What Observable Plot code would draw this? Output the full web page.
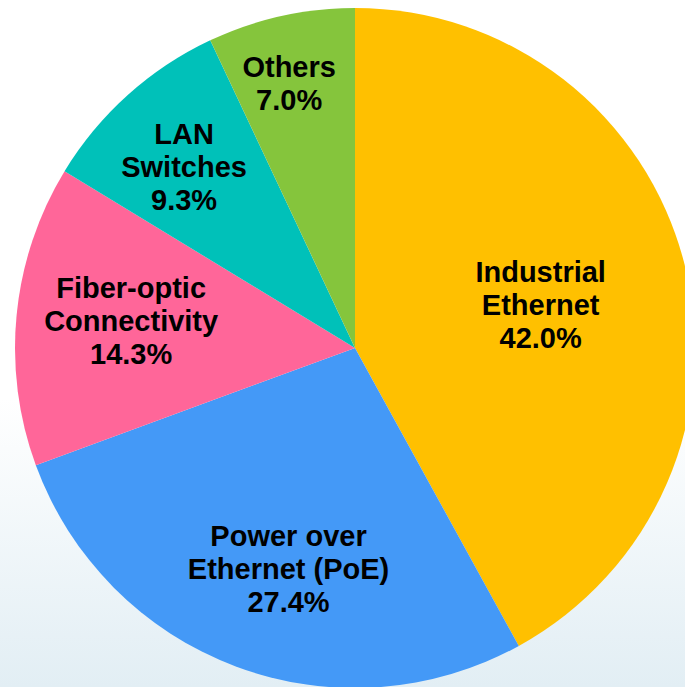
<!DOCTYPE html>
<html>
<head>
<meta charset="utf-8">
<script src="https://cdn.jsdelivr.net/npm/d3@7"></script>
<script src="https://cdn.jsdelivr.net/npm/@observablehq/plot@0.6"></script>
<style>
  html, body { margin: 0; padding: 0; }
  body {
    width: 685px; height: 687px; overflow: hidden;
    background: linear-gradient(to bottom, #ffffff 0%, #ffffff 58%, #e2eef4 100%);
    font-family: "Liberation Sans", Arial, sans-serif;
  }
  #chart svg { display: block; background: transparent !important; }
</style>
</head>
<body>
<div id="chart"></div>
<script>
const categories = ["Industrial\nEthernet", "Power over\nEthernet (PoE)", "Fiber-optic\nConnectivity", "LAN\nSwitches", "Others"];
const shares = [42.0, 27.4, 14.3, 9.3, 7.0];
const colors = ["#FFC000", "#4499F7", "#FF6699", "#00C1B9", "#85C53C"];
// label placement: fraction of pie radius, and fraction along each slice's angle
const labelRadii = [0.56, 0.675, 0.665, 0.735, 0.806];
const labelSpan = [0.506, 0.464, 0.53, 0.459, 0.444];

const arcs = d3.pie().sort(null).value(d => d)(shares);
const rows = categories.map((c, i) => {
  const a = arcs[i];
  const ang = a.startAngle + labelSpan[i] * (a.endAngle - a.startAngle);
  return {
    name: c, share: shares[i], color: colors[i],
    start: a.startAngle, end: a.endAngle,
    lx: labelRadii[i] * Math.sin(ang),
    ly: labelRadii[i] * Math.cos(ang),
    label: c + "\n" + shares[i].toFixed(1) + "%"
  };
});

function slices(index, scales) {
  const x = scales.x, y = scales.y;
  const cx = x(0), cy = y(0), r = x(1) - x(0);
  const g = d3.create("svg:g").attr("transform", `translate(${cx},${cy})`);
  const arc = d3.arc().innerRadius(0).outerRadius(r);
  g.selectAll("path").data(rows).join("path")
    .attr("d", d => arc({startAngle: d.start, endAngle: d.end}))
    .attr("fill", d => d.color);
  return g.node();
}

const chart = Plot.plot({
  width: 685,
  height: 687,
  margin: 0,
  style: {background: "transparent", overflow: "hidden"},
  x: {domain: [-1, 1], range: [15, 695], axis: null},
  y: {domain: [-1, 1], range: [688, 8], axis: null},
  marks: [
    slices,
    Plot.text(rows, {
      x: "lx", y: "ly", text: "label",
      fontSize: 29, fontWeight: "bold", fill: "#000",
      fontFamily: "Liberation Sans, Arial, sans-serif",
      lineHeight: 1.138, textAnchor: "middle", lineAnchor: "middle"
    })
  ]
});
document.getElementById("chart").appendChild(chart);
</script>
</body>
</html>
